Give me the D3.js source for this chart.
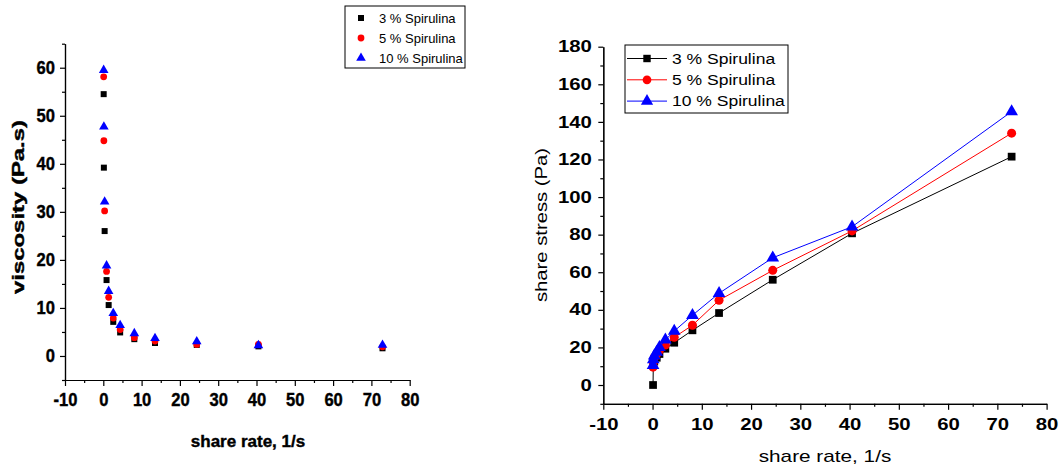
<!DOCTYPE html>
<html>
<head>
<meta charset="utf-8">
<script src="https://cdn.jsdelivr.net/npm/d3@7"></script>
<style>
    body { margin: 0; background: #fff; }
    svg { display: block; font-family: "Liberation Sans", Arial, sans-serif; }
    .heavy { stroke: #000; stroke-width: 0.4px; }
</style>
</head>
<body>
<svg id="fig" width="1062" height="472"></svg>
<script>
// shear rate (1/s), shared by both panels
const shearRate = [0.1, 0.15, 0.35, 0.85, 1.4, 2.6, 4.4, 8.1, 13.5, 24.4, 40.5, 72.9];

// viscosity (Pa.s)
const visc3 = [54.5, 39.2, 26.0, 15.8, 10.6, 7.1, 4.9, 3.5, 2.7, 2.3, 2.0, 1.6];
const visc5 = [58.1, 44.8, 30.2, 17.6, 12.2, 7.9, 5.5, 3.8, 3.1, 2.4, 2.4, 1.9];
const visc10 = [59.5, 47.7, 32.1, 18.8, 13.5, 8.9, 6.4, 4.7, 3.7, 3.0, 2.2, 2.3];

// shear stress (Pa)
const stress3 = [0, 10.5, 12.5, 14.5, 16.5, 19.3, 22.5, 29.1, 38.3, 56, 80.7, 121.5];
const stress5 = [9.5, 12, 14.5, 16.5, 18.5, 21.3, 25.4, 31.8, 45.1, 61, 82, 134];
const stress10 = [10.5, 13.5, 15.5, 17.5, 20, 24, 28.7, 37.1, 48.8, 67.7, 84.2, 145.5];

const seriesNames = ['3 % Spirulina', '5 % Spirulina', '10 % Spirulina'];
const seriesColors = ['#000000', '#ff0000', '#0000ff'];
const seriesShapes = [d3.symbolSquare, d3.symbolCircle, d3.symbolTriangle];

const xTicks = d3.range(-10, 81, 10);
const xMinor = d3.range(-5, 80, 10);
const viscTicks = d3.range(0, 61, 10);
const viscMinor = d3.range(-5, 66, 10);
const stressTicks = d3.range(0, 181, 20);
const stressMinor = d3.range(-10, 171, 20);

let svg = d3.select('#fig');

// stretch a text along its own direction
function widen(sel, k) {
    sel.each(function () {
        let w = this.getComputedTextLength();
        d3.select(this).attr('textLength', w * k).attr('lengthAdjust', 'spacingAndGlyphs');
    });
}

function marker(g, shape, size, color, x, y) {
    let path = d3.symbol().type(shape).size(size);
    g.append('path')
        .attr('d', path)
        .attr('transform', `translate(${x},${y})`)
        .style('fill', color);
}

function draw_axes(g, xScale, yScale, yTicks, yMinor, opt) {
    let fmt = d => String(d);   // plain hyphen for negatives
    let xAxis = g.append('g')
        .attr('transform', `translate(0,${yScale.range()[0]})`)
        .call(d3.axisBottom(xScale).tickValues(xTicks).tickFormat(fmt).tickSize(6).tickSizeOuter(0).tickPadding(opt.xPad));
    let xMin = g.append('g')
        .attr('transform', `translate(0,${yScale.range()[0]})`)
        .call(d3.axisBottom(xScale).tickValues(xMinor).tickSize(3).tickSizeOuter(0).tickFormat(''));
    let yAxis = g.append('g')
        .attr('transform', `translate(${xScale.range()[0]},0)`)
        .call(d3.axisLeft(yScale).tickValues(yTicks).tickFormat(fmt).tickSize(5).tickSizeOuter(0).tickPadding(opt.yPad));
    let yMin = g.append('g')
        .attr('transform', `translate(${xScale.range()[0]},0)`)
        .call(d3.axisLeft(yScale).tickValues(yMinor).tickSize(3).tickSizeOuter(0).tickFormat(''));

    [xAxis, xMin, yAxis, yMin].forEach(a => {
        a.selectAll('path, line').style('stroke', '#000').style('stroke-width', 1.2);
    });
    [xAxis, yAxis].forEach(a => {
        a.selectAll('text')
            .style('font-size', opt.tickFont + 'px')
            .style('font-weight', 'bold')
            .style('fill', '#000')
            .classed('heavy', !!opt.heavy);
        if (opt.widen) widen(a.selectAll('text'), opt.widen);
    });
}

// ---------- left panel: viscosity ----------
let left = svg.append('g');
let xL = d3.scaleLinear().domain([-10, 80]).range([65, 409.7]);
let yL = d3.scaleLinear().domain([-5, 65]).range([380, 43.7]);
draw_axes(left, xL, yL, viscTicks, viscMinor, {xPad: 7, yPad: 5, tickFont: 18, widen: 0.92, heavy: true});

left.append('text')
    .attr('class', 'heavy')
    .attr('transform', `translate(24,207) rotate(-90)`)
    .attr('text-anchor', 'middle')
    .style('font-weight', 'bold')
    .style('font-size', '16px')
    .attr('textLength', 174)
    .attr('lengthAdjust', 'spacingAndGlyphs')
    .text('viscosity (Pa.s)');

left.append('text')
    .attr('class', 'heavy')
    .attr('x', 248)
    .attr('y', 447)
    .attr('text-anchor', 'middle')
    .style('font-weight', 'bold')
    .style('font-size', '17px')
    .text('share rate, 1/s');

[visc3, visc5, visc10].forEach((vals, s) => {
    let pts = left.append('g');
    let size = [36, 36, 40][s];
    shearRate.forEach((x, i) => marker(pts, seriesShapes[s], size, seriesColors[s], xL(x), yL(vals[i])));
});

// legend
let legL = left.append('g');
legL.append('rect')
    .attr('x', 345).attr('y', 6).attr('width', 120).attr('height', 62)
    .style('fill', '#fff').style('stroke', '#000').style('stroke-width', 1);
seriesNames.forEach((name, s) => {
    let cy = 18 + s * 20;
    marker(legL, seriesShapes[s], [36, 36, 40][s], seriesColors[s], 361, cy);
    legL.append('text')
        .attr('x', 379).attr('y', cy).attr('dy', '0.36em')
        .style('font-size', '13px')
        .text(name);
});

// ---------- right panel: shear stress ----------
let right = svg.append('g');
let xR = d3.scaleLinear().domain([-10, 80]).range([603.3, 1046.6]);
let yR = d3.scaleLinear().domain([-10, 180]).range([403.8, 46.7]);
draw_axes(right, xR, yR, stressTicks, stressMinor, {xPad: 8.5, yPad: 6.5, tickFont: 16, widen: 1.27});

let ylab = right.append('text')
    .attr('transform', `translate(547,225) rotate(-90)`)
    .attr('text-anchor', 'middle')
    .style('font-size', '17px')
    .text('share stress (Pa)');
widen(ylab, 1.19);

let xlab = right.append('text')
    .attr('x', 825)
    .attr('y', 462)
    .attr('text-anchor', 'middle')
    .style('font-size', '17px')
    .text('share rate, 1/s');
widen(xlab, 1.22);

let line = d3.line()
    .x((d, i) => xR(shearRate[i]))
    .y(d => yR(d));

[stress3, stress5, stress10].forEach((vals, s) => {
    let g = right.append('g');
    g.append('path')
        .datum(vals)
        .attr('d', line)
        .style('fill', 'none')
        .style('stroke', seriesColors[s])
        .style('stroke-width', 1);
    let size = [60, 64, 70][s];
    shearRate.forEach((x, i) => marker(g, seriesShapes[s], size, seriesColors[s], xR(x), yR(vals[i])));
});

let legR = right.append('g');
legR.append('rect')
    .attr('x', 625).attr('y', 45).attr('width', 163).attr('height', 68)
    .style('fill', '#fff').style('stroke', '#000').style('stroke-width', 1);
seriesNames.forEach((name, s) => {
    let cy = 58.5 + s * 21.3;
    legR.append('line')
        .attr('x1', 627).attr('x2', 667).attr('y1', cy).attr('y2', cy)
        .style('stroke', seriesColors[s]).style('stroke-width', 1);
    marker(legR, seriesShapes[s], [55, 60, 65][s], seriesColors[s], 647, cy);
    let t = legR.append('text')
        .attr('x', 672).attr('y', cy).attr('dy', '0.36em')
        .style('font-size', '14px')
        .text(name);
    widen(t, 1.25);
});
</script>
</body>
</html>
